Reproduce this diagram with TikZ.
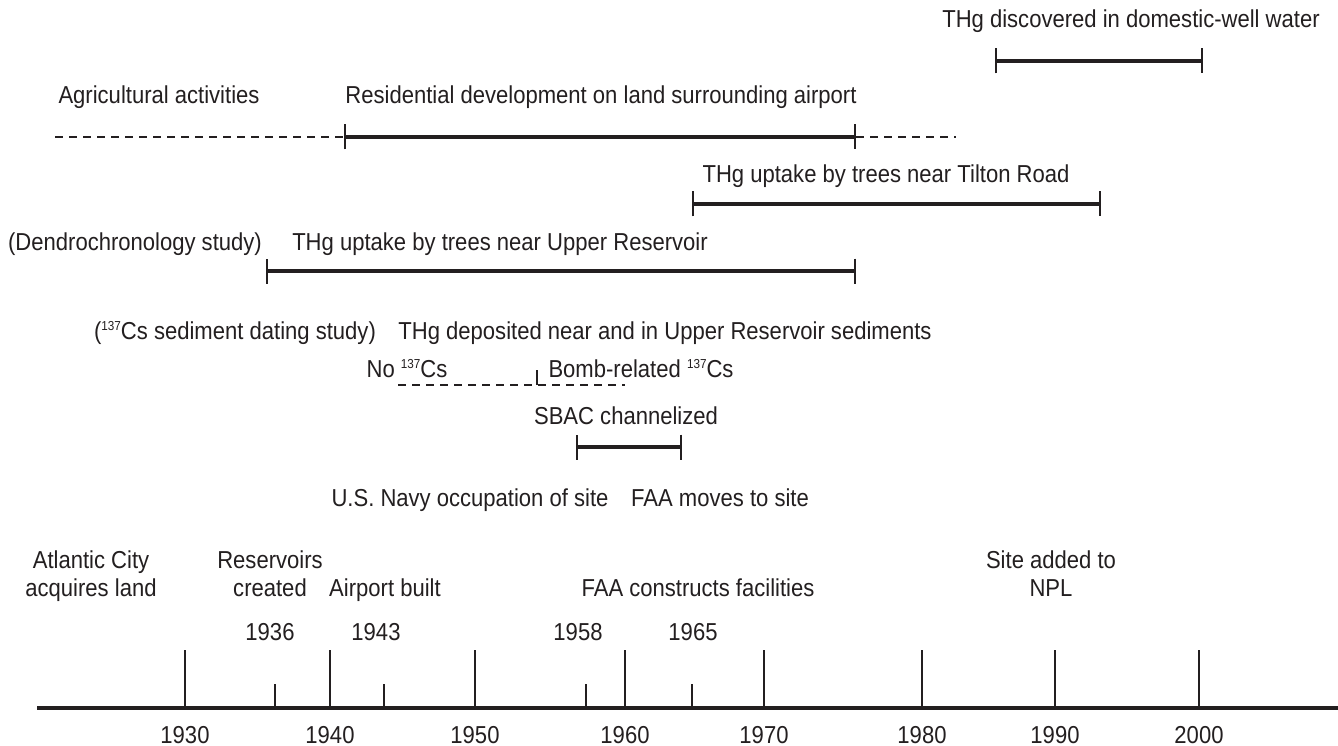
\documentclass[tikz,border=0pt]{standalone}
\usepackage{fontspec}
\setmainfont{Liberation Sans}[FakeStretch=0.9]
\usetikzlibrary{arrows.meta}
\definecolor{ink}{HTML}{231F20}
\newcommand\lbl{\fontsize{24.5pt}{28pt}\selectfont}
\newcommand\cesium{\raisebox{8.5pt}{\fontsize{13pt}{13pt}\selectfont 137}Cs}
\tikzset{
    every node/.style={font=\lbl, text=ink, anchor=base, inner sep=0pt}, % all labels sit on their baseline
    span/.style={draw=ink, line width=3.2pt, {Bar[width=25pt,line width=2.2pt]}-{Bar[width=25pt,line width=2.2pt]}}, % period with end marks
    dashline/.style={draw=ink, line width=2.4pt, dash pattern=on 8pt off 6pt}, % uncertain period
    axis/.style={draw=ink, line width=3.2pt}, % time axis
    tick/.style={draw=ink, line width=2.4pt}, % marks on the axis
}
\begin{document}
\begin{tikzpicture}[x=1pt, y=-1pt]
    \useasboundingbox[fill=white] (0,0) rectangle (1338,746);
    % periods
    \node (well) at (1131,28) {THg discovered in domestic-well water};
    \coordinate (w1) at (995,61);
    \coordinate (w2) at (1203,61);
    \draw[span] (w1) -- (w2);
    \node (agri) at (159,104) {Agricultural activities};
    \node (resi) at (601,104) {Residential development on land surrounding airport};
    \coordinate (r0) at (55,137);
    \coordinate (r1) at (344,137);
    \coordinate (r2) at (856,137);
    \coordinate (r3) at (956,137);
    \draw[dashline] (r0) -- (r1);
    \draw[span] (r1) -- (r2);
    \draw[dashline] (r2) -- (r3);
    \node (tilton) at (886,183) {THg uptake by trees near Tilton Road};
    \coordinate (t1) at (692,204);
    \coordinate (t2) at (1101,204);
    \draw[span] (t1) -- (t2);
    \node (dendro) at (135,250) {(Dendrochronology study)};
    \node (upper) at (500,250) {THg uptake by trees near Upper Reservoir};
    \coordinate (u1) at (266,271);
    \coordinate (u2) at (856,271);
    \draw[span] (u1) -- (u2);
    \node (csstudy) at (235,339) {(\cesium\ sediment dating study)};
    \node (deposit) at (665,339) {THg deposited near and in Upper Reservoir sediments};
    \node (nocs) at (407,377) {No \cesium};
    \node (bomb) at (641,377) {Bomb-related \cesium};
    \coordinate (c1) at (398,385);
    \coordinate (c2) at (537,385);
    \coordinate (c3) at (625,385);
    \draw[dashline] (c1) -- (c3);
    \draw[tick] (c2) -- ++(0,-15);
    \node (sbac) at (626,424) {SBAC channelized};
    \coordinate (s1) at (576,447);
    \coordinate (s2) at (682,447);
    \draw[span] (s1) -- (s2);
    % events
    \node (navy) at (470,506) {U.S. Navy occupation of site};
    \node (faamove) at (720,506) {FAA moves to site};
    \node (acity) at (91,568) {Atlantic City};
    \node (acq) at (91,596) {acquires land};
    \node (resv) at (270,568) {Reservoirs};
    \node (created) at (270,596) {created};
    \node (airport) at (385,596) {Airport built};
    \node (faabuild) at (698,596) {FAA constructs facilities};
    \node (site) at (1051,568) {Site added to};
    \node (npl) at (1051,596) {NPL};
    \node (e1936) at (270,640) {1936};
    \node (e1943) at (376,640) {1943};
    \node (e1958) at (578,640) {1958};
    \node (e1965) at (693,640) {1965};
    % time axis
    \draw[axis] (37,708) -- (1338,708);
    \draw[tick] (185,709) -- (185,650);
    \draw[tick] (275,709) -- (275,684);
    \draw[tick] (330,709) -- (330,650);
    \draw[tick] (384,709) -- (384,684);
    \draw[tick] (475,709) -- (475,650);
    \draw[tick] (586,709) -- (586,684);
    \draw[tick] (625,709) -- (625,650);
    \draw[tick] (692,709) -- (692,684);
    \draw[tick] (764,709) -- (764,650);
    \draw[tick] (922,709) -- (922,650);
    \draw[tick] (1055,709) -- (1055,650);
    \draw[tick] (1199,709) -- (1199,650);
    \node (y1930) at (185,743) {1930};
    \node (y1940) at (330,743) {1940};
    \node (y1950) at (475,743) {1950};
    \node (y1960) at (625,743) {1960};
    \node (y1970) at (764,743) {1970};
    \node (y1980) at (922,743) {1980};
    \node (y1990) at (1055,743) {1990};
    \node (y2000) at (1199,743) {2000};
\end{tikzpicture}
\end{document}
